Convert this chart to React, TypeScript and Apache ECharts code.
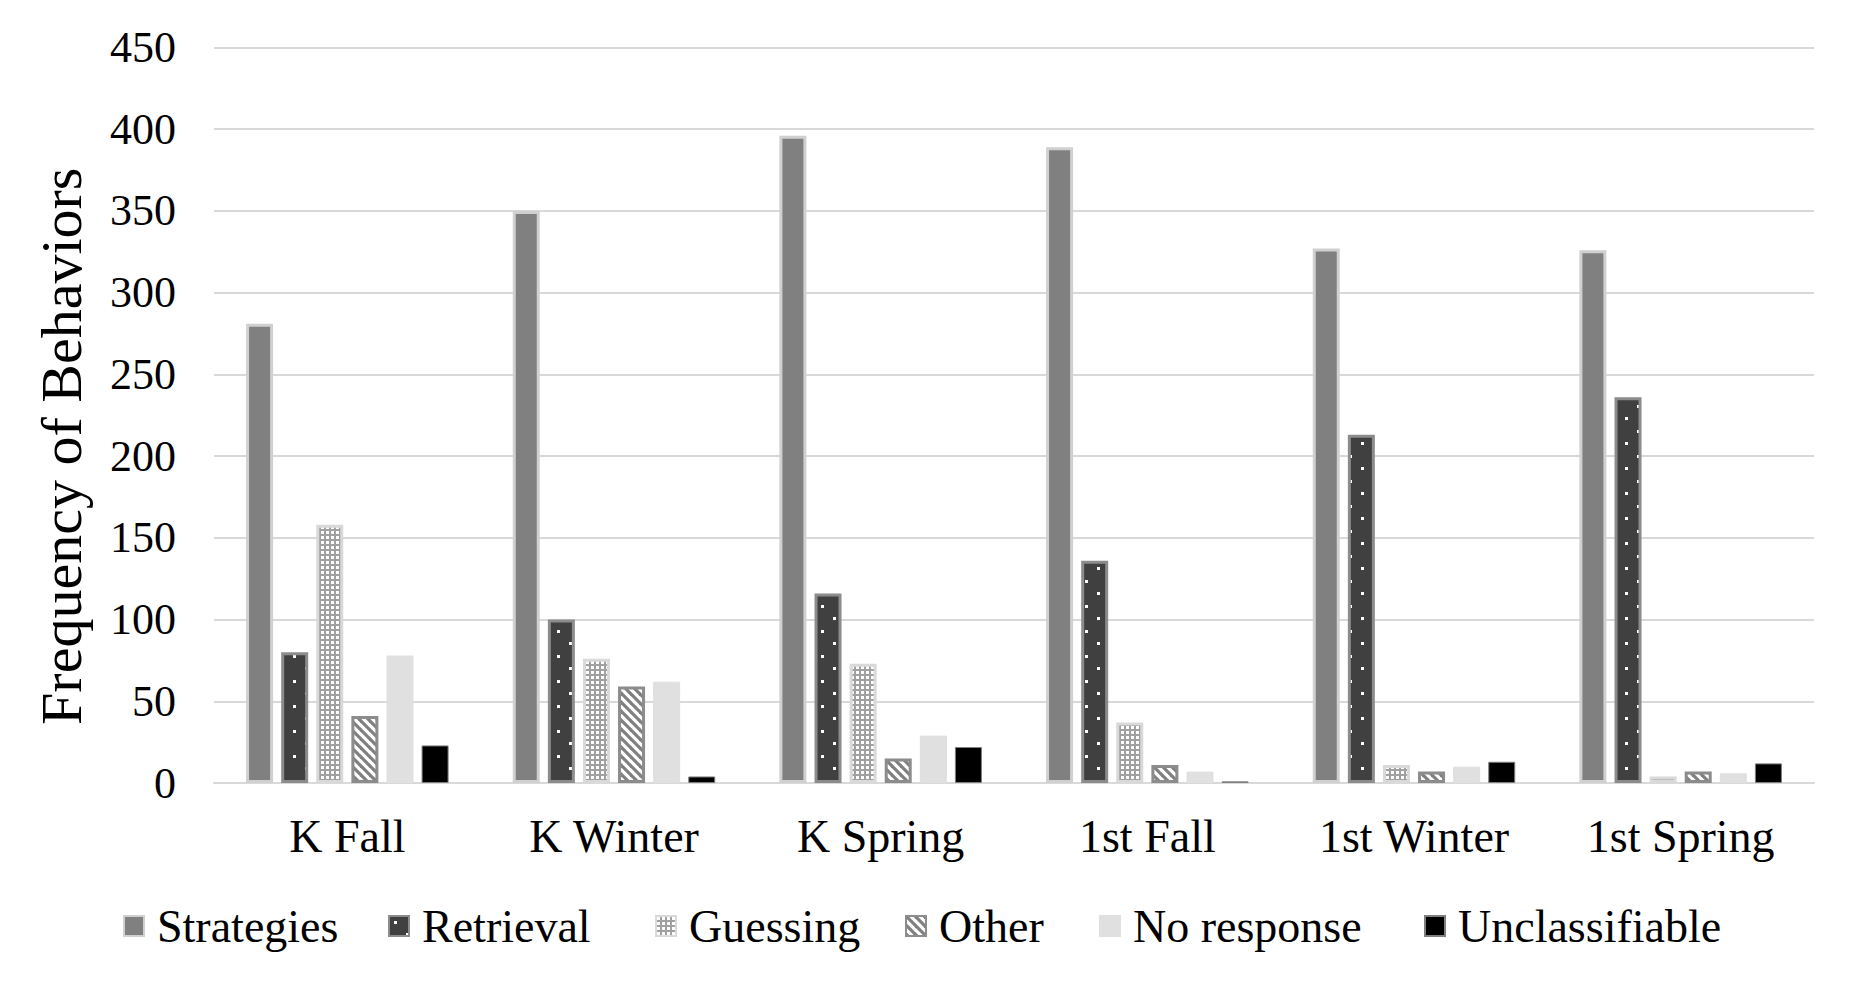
import React, { useEffect, useRef } from "react";
import * as echarts from "echarts";

const categories = ["K Fall", "K Winter", "K Spring", "1st Fall", "1st Winter", "1st Spring"];
const seriesNames = ["Strategies", "Retrieval", "Guessing", "Other", "No response", "Unclassifiable"];
const strategies = [281, 350, 396, 389, 327, 326];
const retrieval = [80, 100, 116, 136, 213, 236];
const guessing = [158, 76, 73, 37, 11, 4];
const other = [41, 59, 15, 11, 7, 7];
const noResponse = [78, 62, 29, 7, 10, 6];
const unclassifiable = [23, 4, 22, 1, 13, 12];
const yTicks = [0, 50, 100, 150, 200, 250, 300, 350, 400, 450];

const FONT = "'Liberation Serif', 'Times New Roman', serif";

function makeTile(w: number, h: number, draw: (ctx: CanvasRenderingContext2D) => void) {
  const c = document.createElement("canvas");
  c.width = w;
  c.height = h;
  const ctx = c.getContext("2d") as CanvasRenderingContext2D;
  draw(ctx);
  return { image: c, repeat: "repeat", imageWidth: w, imageHeight: h } as any;
}

export default function App() {
  const ref = useRef<HTMLDivElement>(null);
  useEffect(() => {
    document.body.style.margin = "0";
    if (!ref.current) return;
    const chart = echarts.init(ref.current, undefined, { renderer: "svg" });

    const retrievalPat = makeTile(24, 25, (ctx) => {
      ctx.fillStyle = "#404040";
      ctx.fillRect(0, 0, 24, 25);
      ctx.fillStyle = "#ffffff";
      ctx.fillRect(5, 5, 3, 3);
      ctx.fillRect(17, 17, 3, 3);
    });
    const guessingPat = makeTile(5, 5, (ctx) => {
      ctx.fillStyle = "#a0a0a0";
      ctx.fillRect(0, 0, 5, 5);
      ctx.fillStyle = "#ffffff";
      ctx.fillRect(1, 1, 3, 3);
    });
    const otherPat = makeTile(9, 9, (ctx) => {
      ctx.fillStyle = "#ffffff";
      ctx.fillRect(0, 0, 9, 9);
      ctx.strokeStyle = "#808080";
      ctx.lineWidth = 3.2;
      for (const k of [-9, 0, 9]) {
        ctx.beginPath();
        ctx.moveTo(k - 1, -1);
        ctx.lineTo(k + 10, 10);
        ctx.stroke();
      }
    });

    const data = [strategies, retrieval, guessing, other, noResponse, unclassifiable];
    const styles = [
      { color: "#808080", borderColor: "#d0d0d0", borderWidth: 3 },
      { color: retrievalPat, borderColor: "#8c8c8c", borderWidth: 3 },
      { color: guessingPat, borderColor: "#d9d9d9", borderWidth: 3 },
      { color: otherPat, borderColor: "#8c8c8c", borderWidth: 3 },
      { color: "#e0e0e0", borderColor: "#e0e0e0", borderWidth: 1 },
      { color: "#000000", borderColor: "#7f7f7f", borderWidth: 1 },
    ];
    const legendLefts = [123, 388, 655, 905, 1099, 1424];

    chart.setOption({
      animation: false,
      backgroundColor: "#ffffff",
      grid: { left: 214, right: 52, top: 47.5, bottom: 198, containLabel: false },
      legend: seriesNames.map((n, i) => ({
        data: [n],
        icon: "rect",
        left: legendLefts[i],
        top: 902,
        itemWidth: 20,
        itemHeight: 20,
        padding: 0,
        selectedMode: false,
        textStyle: { fontFamily: FONT, fontSize: 46, color: "#000000", padding: [0, 0, 0, 8], lineHeight: 48 },
      })),
      xAxis: {
        type: "category",
        data: categories,
        axisLine: { show: true, lineStyle: { color: "#d9d9d9", width: 2 } },
        axisTick: { show: false },
        axisLabel: { fontFamily: FONT, fontSize: 46, color: "#000000", margin: 30 },
      },
      yAxis: {
        type: "value",
        min: yTicks[0],
        max: yTicks[yTicks.length - 1],
        interval: 50,
        name: "Frequency of Behaviors",
        nameLocation: "middle",
        nameGap: 124,
        nameRotate: 90,
        nameTextStyle: { fontFamily: FONT, fontSize: 58, color: "#000000", padding: [0, 62, 0, 0] },
        axisLine: { show: false },
        axisTick: { show: false },
        axisLabel: { fontFamily: FONT, fontSize: 44, color: "#000000", margin: 38 },
        splitLine: { lineStyle: { color: "#d9d9d9", width: 2 } },
      },
      series: seriesNames.map((n, i) => ({
        name: n,
        type: "bar",
        data: data[i],
        barWidth: 27,
        barGap: "30%",
        itemStyle: styles[i],
        emphasis: { disabled: true },
      })),
    });
    return () => chart.dispose();
  }, []);
  return <div ref={ref} style={{ width: 1866, height: 981 }} />;
}
